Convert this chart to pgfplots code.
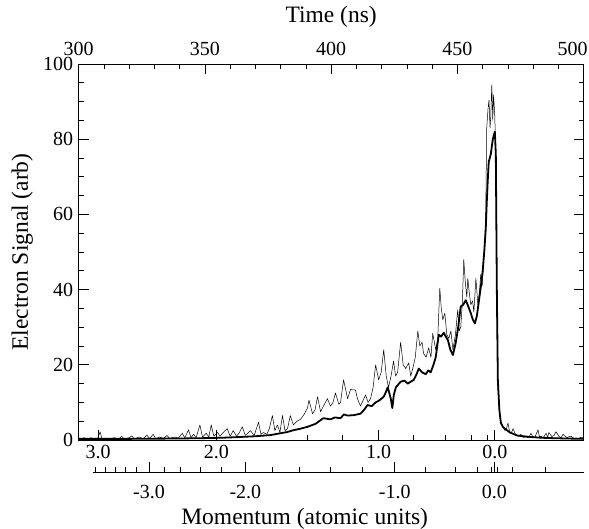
\documentclass[border=0pt]{standalone}
\usepackage{fontspec}
\setmainfont{Liberation Serif}
\usepackage{pgfplots}
\usepackage{pgfplotstable}
\pgfplotsset{compat=1.18}
\usetikzlibrary{calc}

\pgfplotstableread{
t v
300.0 0.4
301.0 0.3
302.0 0.6
303.5 0.3
305.0 0.6
306.0 0.3
307.5 0.4
308.5 2.2
309.2 0.3
311.0 0.5
312.5 0.3
314.0 0.6
316.0 0.3
317.0 1.0
318.0 0.3
320.0 0.6
321.0 1.1
322.0 0.3
324.0 0.8
325.5 0.3
327.0 1.3
328.0 0.4
329.5 1.5
330.5 0.4
332.0 0.8
333.5 0.4
335.0 1.2
336.0 0.4
338.0 0.8
339.5 0.5
341.0 1.8
342.0 0.6
343.5 2.7
344.5 0.6
345.5 1.5
346.5 0.6
348.0 4.0
349.0 0.8
350.5 1.8
351.5 0.8
352.5 4.0
353.5 1.0
355.0 2.0
356.0 1.0
357.5 2.2
358.8 3.0
360.0 1.0
361.2 2.5
362.5 1.0
363.5 1.8
364.8 3.5
366.0 1.2
368.0 2.5
369.5 1.2
371.2 4.7
372.2 1.5
373.1 2.0
374.5 1.5
375.5 3.0
376.7 6.5
377.7 2.5
378.7 4.0
379.7 2.0
380.7 6.5
381.7 2.5
382.7 3.0
383.8 6.5
385.0 4.0
386.5 5.0
387.8 5.5
389.0 6.5
390.6 8.5
391.2 10.6
392.6 7.0
393.6 8.0
394.6 11.5
395.8 7.5
396.9 9.0
398.5 11.0
399.7 9.0
400.7 10.0
401.7 12.5
403.0 9.5
403.7 10.0
404.9 16.0
406.5 11.0
407.7 13.5
408.5 13.3
409.6 13.3
410.4 11.0
411.6 9.0
413.6 12.0
414.6 10.0
415.6 11.0
416.6 14.0
417.6 20.0
418.8 16.0
419.8 18.0
420.8 24.0
421.8 17.0
422.7 14.0
423.7 17.0
424.7 21.0
425.5 17.0
426.3 18.0
427.5 26.0
428.5 20.0
429.5 19.0
430.7 20.5
431.5 17.0
432.3 19.0
433.3 22.0
434.3 29.0
435.1 25.0
436.0 26.0
436.6 23.0
437.6 22.0
438.6 24.5
439.5 22.0
440.2 28.4
441.4 24.0
442.2 27.0
443.0 40.4
443.6 35.0
444.2 32.0
445.0 33.7
445.8 28.0
446.6 27.0
447.4 29.0
448.2 24.0
449.2 28.0
450.1 34.6
450.7 29.0
451.3 30.0
451.9 36.0
452.5 48.0
453.1 42.0
453.7 38.0
454.1 43.0
454.7 39.0
455.3 36.0
456.0 37.0
456.5 34.0
457.3 43.0
458.1 36.0
458.7 39.0
459.2 44.0
459.8 41.0
460.4 48.0
460.8 52.0
461.2 60.0
461.6 83.0
462.1 88.0
462.5 90.4
462.9 83.0
463.2 86.0
463.6 94.5
464.0 85.0
464.3 91.8
464.8 86.0
465.2 75.0
465.6 35.0
466.0 14.0
466.4 9.0
467.2 5.0
468.0 3.5
468.8 2.5
469.4 3.0
470.0 4.5
470.8 1.8
471.4 2.0
472.0 3.0
473.2 1.2
474.2 1.0
475.1 1.5
476.0 0.7
477.1 0.8
478.2 0.6
479.1 1.8
480.0 0.7
480.7 0.8
481.9 2.7
482.5 0.8
483.1 1.0
484.0 0.6
485.1 1.8
485.7 0.7
486.2 2.0
487.4 0.9
488.2 1.2
489.0 2.2
490.2 1.0
491.0 0.6
491.8 1.5
493.4 0.6
494.2 0.9
495.0 1.0
496.0 0.5
497.0 0.5
498.0 0.4
499.0 0.8
500.0 0.4
}\thindata

\pgfplotstableread{
t v
300.0 0.3
310.0 0.3
320.0 0.3
330.0 0.35
340.0 0.4
350.0 0.5
357.0 0.6
364.0 0.8
370.0 1.0
375.9 1.3
379.9 1.8
382.5 2.1
385.0 2.6
387.8 3.0
390.6 3.5
393.8 4.3
396.9 5.8
399.7 5.5
401.5 6.0
403.7 5.8
405.0 6.8
406.5 6.5
408.9 6.6
411.6 7.0
413.0 8.0
414.4 9.3
416.0 9.0
417.6 10.0
419.0 10.5
420.8 11.5
421.5 12.5
422.4 14.0
423.6 11.0
424.2 8.5
424.8 12.0
425.6 14.0
427.5 15.5
429.0 15.8
430.3 15.0
431.5 15.5
432.7 16.0
433.8 17.5
434.7 19.0
436.0 18.0
437.4 17.5
438.5 18.5
439.4 18.0
440.5 20.0
441.4 22.0
442.0 25.0
442.6 28.0
443.5 27.5
444.6 28.5
445.4 27.5
446.2 26.6
447.2 24.0
448.2 22.6
449.3 25.8
450.3 30.0
451.3 35.5
452.3 36.0
453.3 37.2
454.3 35.5
455.3 33.7
456.1 32.0
456.9 31.0
457.7 33.0
458.5 37.0
459.3 41.0
460.0 45.0
460.6 50.0
461.2 56.0
461.6 63.0
462.0 69.0
462.4 74.0
462.8 75.0
463.2 76.0
463.6 78.0
464.0 80.0
464.4 81.0
464.8 82.0
465.2 76.0
465.6 40.0
466.0 16.0
466.6 8.0
467.2 4.5
468.0 3.5
468.8 3.0
470.8 2.0
473.6 1.2
476.0 1.0
479.1 0.8
483.0 0.6
487.0 0.5
493.0 0.4
500.0 0.3
}\thickdata

\begin{document}
\begin{tikzpicture}
\pgfplotsset{every axis/.append style={/pgf/number format/assume math mode=true}}
\begin{axis}[
  name=main, at={(0,0)}, anchor=south west,
  scale only axis, width=505pt, height=376pt,
  xmin=300, xmax=500, ymin=0, ymax=100,
  xtick={300,350,...,500}, minor x tick num=4,
  xticklabels={300,350,400,450,500\hspace*{22pt}},
  xtick pos=right, xticklabel pos=right,
  ytick={0,20,...,100}, minor y tick num=3,
  ytick pos=both, yticklabel pos=left,
  tick align=inside, major tick length=10pt, minor tick length=5pt,
  axis line style={line width=0.9pt}, every tick/.style={line width=0.8pt, black},
  tick label style={font=\fontsize{20}{20}\selectfont},
  xticklabel style={yshift=5pt},
  yticklabel style={xshift=-2pt},
  xlabel={Time (ns)},
  xlabel style={at={(axis description cs:0.5,1.125)}, anchor=center, font=\fontsize{23.5}{23.5}\selectfont},
  ylabel={Electron Signal (arb)},
  ylabel style={at={(axis description cs:-0.112,0.5)}, anchor=center, font=\fontsize{23.5}{23.5}\selectfont},
  clip=true,
]
\addplot[black, line width=0.5pt, line join=round] table[x=t, y=v] {\thindata};
\addplot[black, line width=1.8pt, line join=round] table[x=t, y=v] {\thickdata};
\end{axis}

\begin{axis}[
  at={(main.south west)}, anchor=south west,
  scale only axis, width=505pt, height=376pt,
  xmin=300, xmax=500, ymin=0, ymax=100,
  hide y axis, axis x line*=bottom, x axis line style={-, line width=0.9pt},
  xtick={307.7,354.5,418.8,464.8}, xticklabels={3.0,2.0,1.0,0.0},
  minor xtick={390.6,404.5,432.7,445.4,455.7,462.0},
  xtick align=inside, major tick length=10pt, minor tick length=5pt,
  every tick/.style={line width=0.8pt, black},
  tick label style={font=\fontsize{20}{20}\selectfont},
  xticklabel style={yshift=-2pt},
]
\end{axis}

\begin{axis}[
  at={($(main.south west)+(14pt,-32pt)$)}, anchor=south west,
  scale only axis, width=491.3pt, height=50pt,
  xmin=305.6, xmax=500, ymin=0, ymax=1,
  hide y axis, axis x line*=bottom, x axis line style={-, line width=0.9pt},
  xtick={327.9,366.0,425.1,464.5}, xticklabels={-3.0,-2.0,-1.0,0.0},
  minor xtick={306.5,310.8,314.7,318.4,322.7,333.8,340.2,348.1,356.7,376.6,387.5,399.7,412.3,437.4,449.3,457.9,463.2,465.6,471.8,484.6},
  xtick align=inside, major tick length=10pt, minor tick length=5pt,
  every tick/.style={line width=0.8pt, black},
  tick label style={font=\fontsize{20}{20}\selectfont},
  xticklabel style={yshift=-10pt},
]
\end{axis}

\node[font=\fontsize{23.5}{23.5}\selectfont] at ($(main.south west)+(226pt,-79pt)$) {Momentum (atomic units)};

\pgfresetboundingbox
\path[use as bounding box] ($(main.south west)+(-78.7pt,-89pt)$) rectangle ($(main.south west)+(510.3pt,440pt)$);
\end{tikzpicture}
\end{document}
